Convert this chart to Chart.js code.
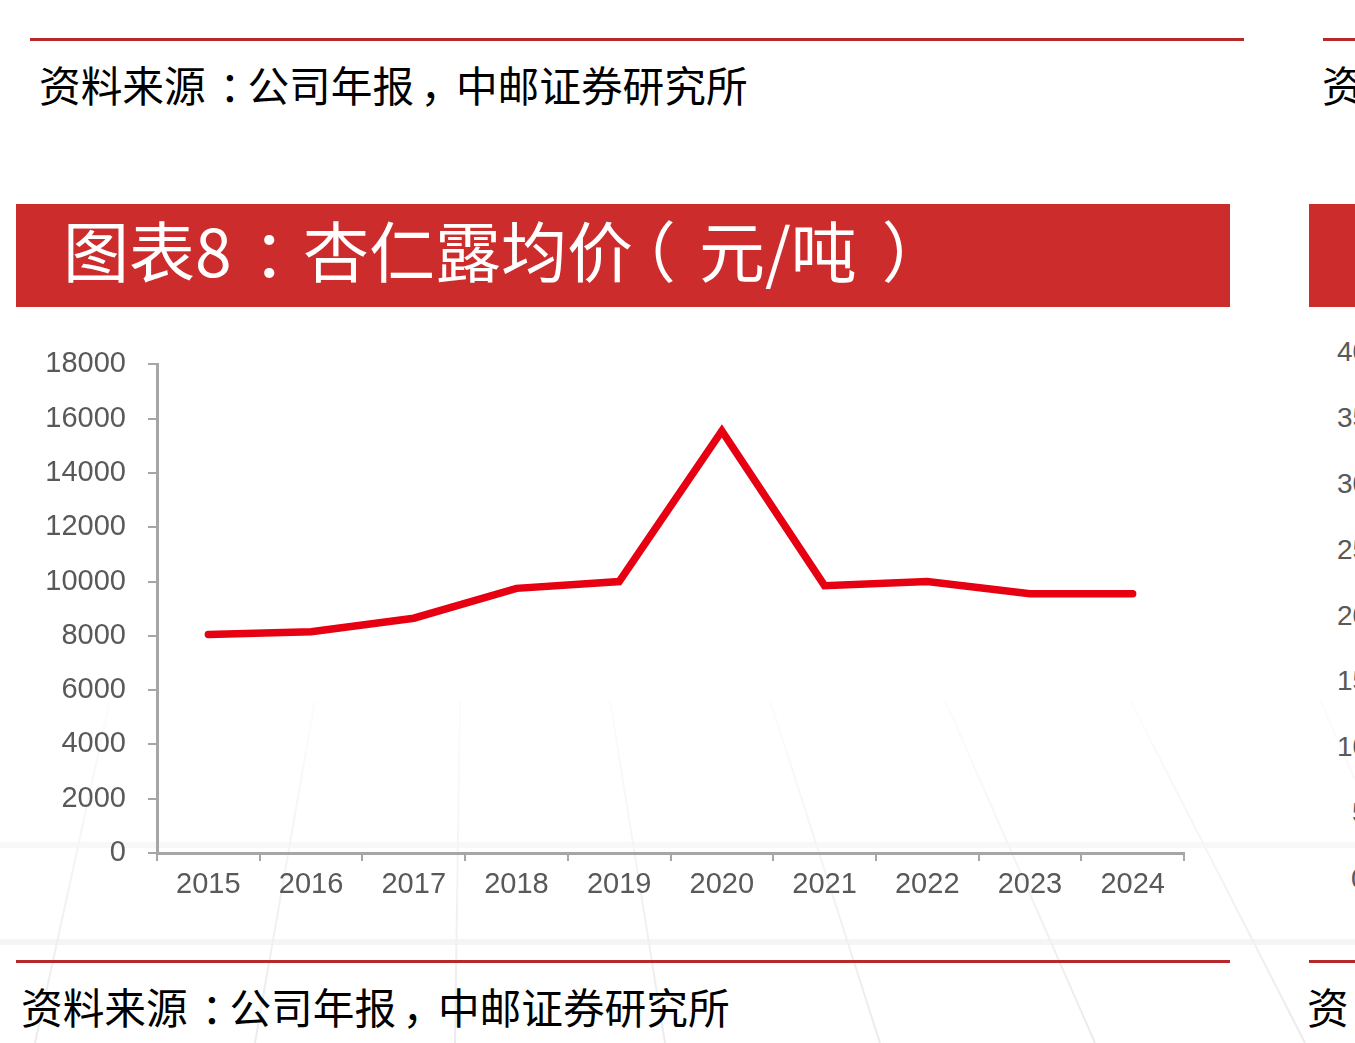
<!DOCTYPE html>
<html>
<head>
<meta charset="utf-8">
<script src="https://cdn.jsdelivr.net/npm/chart.js@4/dist/chart.umd.min.js"></script>
<style>
  html, body { margin:0; padding:0; background:#fff; }
  body { width:1355px; height:1043px; position:relative; overflow:hidden; font-family:"Noto Sans CJK SC", sans-serif; }
  .rule { position:absolute; height:3px; background:#b5292b; }
  .src { position:absolute; font-size:41.7px; line-height:50px; color:#000; white-space:nowrap; }
  .bar { position:absolute; background:#cd2c2d; }
  .title { position:absolute; color:#fff; font-size:66px; line-height:80px; white-space:nowrap; }
  .p { position:relative; display:inline-block; }
  .rt { position:absolute; font-family:"Liberation Sans", Arial, sans-serif; font-size:28px; color:#595959; line-height:30px; }
  #bg { position:absolute; left:0; top:0; }
  #wrap { position:absolute; left:0; top:325px; width:1240px; height:595px; }
  canvas { display:block; }
</style>
</head>
<body>
<svg id="bg" width="1355" height="1043">
  <defs>
    <linearGradient id="fade" x1="0" y1="0" x2="0" y2="1">
      <stop offset="0" stop-color="#fff" stop-opacity="0"/>
      <stop offset="1" stop-color="#fff" stop-opacity="1"/>
    </linearGradient>
    <mask id="m"><rect x="0" y="640" width="1355" height="403" fill="url(#fade)"/></mask>
  </defs>
  <g mask="url(#m)" stroke="#ebebeb" stroke-width="2" fill="none">
    <line x1="0" y1="845" x2="1355" y2="845" stroke="#f2f2f2" stroke-width="6"/>
    <line x1="0" y1="942" x2="1355" y2="942" stroke="#f2f2f2" stroke-width="6"/>
    <line x1="110" y1="700" x2="35" y2="1043"/>
    <line x1="315" y1="700" x2="255" y2="1043"/>
    <line x1="460" y1="700" x2="455" y2="1043"/>
    <line x1="610" y1="700" x2="665" y2="1043"/>
    <line x1="770" y1="700" x2="880" y2="1043"/>
    <line x1="945" y1="700" x2="1095" y2="1043"/>
    <line x1="1130" y1="700" x2="1305" y2="1043"/>
    <line x1="1320" y1="700" x2="1355" y2="780"/>
  </g>
</svg>

<div class="rule" style="left:30px; top:38px; width:1214px;"></div>
<div class="src" style="left:39px; top:59px;">资料来源<span class="p" style="left:0.33em">：</span>公司年报<span class="p" style="left:0.15em">，</span>中邮证券研究所</div>

<div class="bar" style="left:16px; top:204px; width:1214px; height:103px;"></div>
<div class="title" style="left:63px; top:208px;">图表8<span class="p" style="left:0.32em;margin-right:0.08em">：</span>杏仁露均价<span class="p" style="left:-0.35em;margin-right:0.0em">（</span>元/吨<span class="p" style="left:0.38em">）</span></div>

<div id="wrap"><canvas id="c" width="1240" height="595"></canvas></div>

<div class="rule" style="left:16px; top:960px; width:1214px;"></div>
<div class="src" style="left:21px; top:981px;">资料来源<span class="p" style="left:0.33em">：</span>公司年报<span class="p" style="left:0.15em">，</span>中邮证券研究所</div>

<!-- neighbouring panel, clipped at the right edge -->
<div class="rule" style="left:1323px; top:38px; width:40px;"></div>
<div class="src" style="left:1322px; top:59px;">资</div>
<div class="bar" style="left:1309px; top:204px; width:60px; height:103px;"></div>
<div class="rt" style="left:1337px; top:337px;">400</div>
<div class="rt" style="left:1337px; top:403px;">350</div>
<div class="rt" style="left:1337px; top:469px;">300</div>
<div class="rt" style="left:1337px; top:535px;">250</div>
<div class="rt" style="left:1337px; top:601px;">200</div>
<div class="rt" style="left:1337px; top:666px;">150</div>
<div class="rt" style="left:1337px; top:732px;">100</div>
<div class="rt" style="left:1352px; top:798px;">50</div>
<div class="rt" style="left:1351px; top:864px;">0</div>
<div class="rule" style="left:1309px; top:960px; width:60px;"></div>
<div class="src" style="left:1307px; top:981px;">资</div>

<script>
const years = ['2015','2016','2017','2018','2019','2020','2021','2022','2023','2024'];
const avgPrice = [8050, 8150, 8650, 9750, 10000, 15550, 9850, 10000, 9550, 9550];
const yTicks = [0, 2000, 4000, 6000, 8000, 10000, 12000, 14000, 16000, 18000];

const tickFont = { family: '"Liberation Sans", Arial, sans-serif', size: 29 };
const axisGray = '#a6a6a6';

new Chart(document.getElementById('c'), {
  type: 'line',
  data: {
    labels: years,
    datasets: [{
      data: avgPrice,
      borderColor: '#e60012',
      borderWidth: 7.5,
      borderCapStyle: 'round',
      borderJoinStyle: 'miter',
      pointRadius: 0,
      tension: 0,
      fill: false
    }]
  },
  options: {
    responsive: false,
    animation: false,
    layout: { padding: { top: 20, right: 56, bottom: 7, left: 0 } },
    plugins: { legend: { display: false }, tooltip: { enabled: false } },
    scales: {
      x: {
        type: 'category',
        offset: true,
        grid: { drawOnChartArea: false, drawTicks: true, tickLength: 8, color: axisGray, lineWidth: 2, offset: true },
        border: { display: true, color: axisGray, width: 3 },
        ticks: { font: tickFont, color: '#595959', padding: 7, maxRotation: 0, autoSkip: false },
        afterFit: s => { s.height = 60; }
      },
      y: {
        min: 0, max: 18000,
        afterBuildTicks: s => { s.ticks = yTicks.map(v => ({ value: v })); },
        grid: { drawOnChartArea: false, drawTicks: true, tickLength: 9, color: axisGray, lineWidth: 2 },
        border: { display: true, color: axisGray, width: 3 },
        ticks: { font: tickFont, color: '#595959', padding: 22, callback: v => String(v) },
        afterFit: s => { s.width = 157; }
      }
    }
  }
});
</script>
</body>
</html>
